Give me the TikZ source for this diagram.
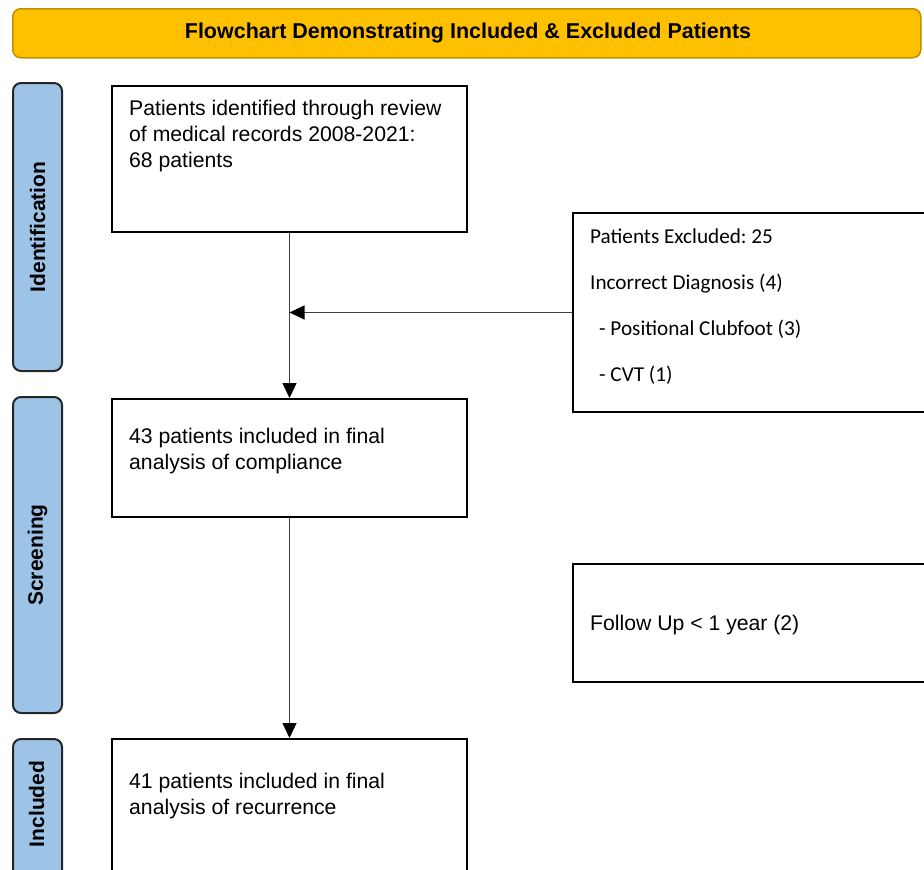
\documentclass[tikz,border=0pt]{standalone}
\usepackage{fontspec}
\setmainfont{Liberation Sans}
\newfontfamily\calib{Carlito}
\usetikzlibrary{arrows.meta}
\definecolor{gold}{HTML}{FFC000}
\definecolor{goldline}{HTML}{BF9000}
\definecolor{sideblue}{HTML}{9DC3E6}
\definecolor{conn}{HTML}{404040}
\tikzset{
  banner/.style={draw=goldline, fill=gold, line width=1.5pt, rounded corners=8pt,
    anchor=north west, inner sep=0pt},
  side/.style={draw=black!85, fill=sideblue, line width=2pt, rounded corners=8pt,
    anchor=north west, inner sep=0pt},
  sidetxt/.style={rotate=90, inner sep=0pt, font=\fontsize{21}{25}\selectfont\bfseries},
  titletxt/.style={inner sep=0pt, font=\fontsize{21.5}{25}\selectfont\bfseries},
  box/.style={draw=black, line width=2pt, anchor=north west, inner sep=0pt, fill=white},
  txt/.style={anchor=base west, inner sep=0pt, align=left, font=\fontsize{21.2}{26}\selectfont\frenchspacing},
  ctxt/.style={anchor=base west, inner sep=0pt, align=left, font=\calib\fontsize{21.2}{46}\selectfont\frenchspacing},
  arr/.style={draw=conn, line width=1.2pt, -{Triangle[length=15pt,width=14pt,color=black]}}
}
\begin{document}
\begin{tikzpicture}[x=1pt,y=-1pt]
\useasboundingbox (0,0) rectangle (924,870);
\clip (0,0) rectangle (924,870);
% banner
\node[banner, minimum width=908pt, minimum height=49pt] (ban) at (12,8) {};
\node[titletxt] (bant) at (468,32.5) {Flowchart Demonstrating Included \& Excluded Patients};
% side labels
\node[side, minimum width=49pt, minimum height=288pt] (sid1) at (12,82) {};
\node[sidetxt] (sid1t) at (sid1.center) {Identification};
\node[side, minimum width=49pt, minimum height=316pt] (sid2) at (12,396) {};
\node[sidetxt] (sid2t) at (sid2.center) {Screening};
\node[side, minimum width=49pt, minimum height=160pt] (sid3) at (12,738) {};
\node[sidetxt] (sid3t) at (36.5,804) {Included};
% main boxes (text anchored at the baseline of its last line)
\node[box, minimum width=355pt, minimum height=146pt] (b1) at (111,85) {};
\node[txt] (b1t) at (129,167) {Patients identified through review\\of medical records 2008-2021:\\68 patients};
\node[box, minimum width=355pt, minimum height=118pt] (b2) at (111,398) {};
\node[txt] (b2t) at (129,469) {43 patients included in final\\analysis of compliance};
\node[box, minimum width=355pt, minimum height=160pt] (b3) at (111,738) {};
\node[txt] (b3t) at (129,814) {41 patients included in final\\analysis of recurrence};
% right boxes
\node[box, minimum width=380pt, minimum height=199pt] (r1) at (572,212) {};
\node[ctxt] (r1t) at (590,381) {Patients Excluded: 25\\Incorrect Diagnosis (4)\\\hspace*{9pt}- Positional Clubfoot (3)\\\hspace*{9pt}- CVT (1)};
\node[box, minimum width=380pt, minimum height=118pt] (r2) at (572,563) {};
\node[txt] (r2t) at (590,630) {Follow Up < 1 year (2)};
% connectors
\coordinate (jn) at (b1.south |- r1.west);
\draw[arr] (b1.south) -- (b2.north);
\draw[arr] (r1.west) -- (jn);
\draw[arr] (b2.south) -- (b3.north);
\end{tikzpicture}
\end{document}
